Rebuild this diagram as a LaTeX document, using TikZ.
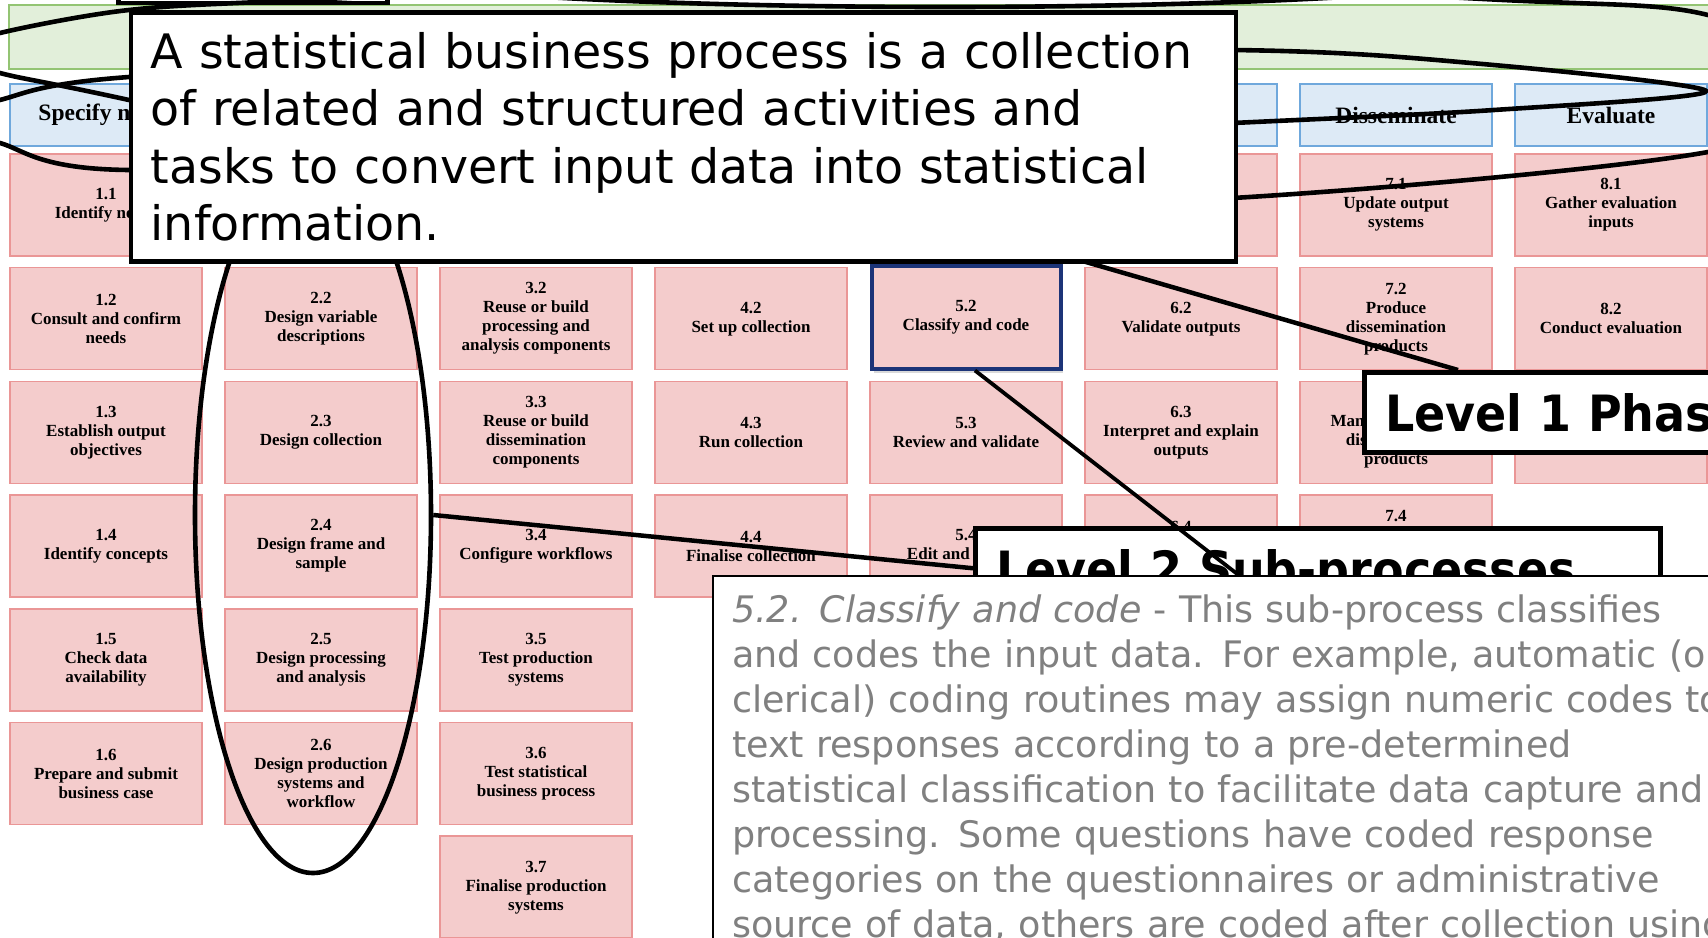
\documentclass[tikz,border=0pt]{standalone}
\usepackage{fontspec}
\setmainfont{Liberation Serif}
\newfontfamily\calloutfont{DejaVu Sans}
\newfontfamily\levelfont[FakeStretch=0.92]{DejaVu Sans}
\usetikzlibrary{calc,shadows,shapes.geometric}

\definecolor{subfill}{RGB}{244,204,204}
\definecolor{subline}{RGB}{234,150,150}
\definecolor{phasefill}{RGB}{221,234,246}
\definecolor{phaseline}{RGB}{111,168,220}
\definecolor{overfill}{RGB}{226,239,218}
\definecolor{overline}{RGB}{147,196,115}
\definecolor{pickline}{RGB}{28,52,120}
\definecolor{desctext}{RGB}{128,128,128}

\tikzset{
  subbox/.style={draw=subline, fill=subfill, line width=1.5pt,
    minimum width=192pt, minimum height=102pt, inner sep=2pt,
    align=center, font=\fontsize{17}{19}\selectfont\bfseries},
  phasebox/.style={draw=phaseline, fill=phasefill, line width=1.5pt,
    minimum width=192pt, minimum height=62pt,
    font=\fontsize{23.5}{27}\selectfont\bfseries},
  pickbox/.style={draw=pickline, line width=4pt,
    minimum width=189pt, minimum height=103pt,
    drop shadow={opacity=0.3, shadow xshift=2pt, shadow yshift=-4pt}},
  callout/.style={draw, fill=white, line width=4.5pt, inner xsep=20pt},
  levelbox/.style={callout, inner xsep=21pt, inner ysep=0pt,
    minimum height=80pt, text height=38pt, text depth=0pt, align=left,
    font=\levelfont\bfseries\fontsize{50}{60}\selectfont},
  ring/.style={line width=4.6pt},
  pointer/.style={line width=4.5pt},
}

\begin{document}
\begin{tikzpicture}[x=1pt, y=-1pt]
  \useasboundingbox (0,0) rectangle (1708,937);

  % Overarching bar along the top
  \draw[draw=overline, fill=overfill, line width=1.5pt] (9,5) rectangle (1760,69);

  % Phase headers
  \foreach \c/\name in {1/{Specify needs}, 2/{}, 3/{}, 4/{}, 5/{}, 6/{},
      7/{Disseminate}, 8/{Evaluate}}
    \node[phasebox] (p\c) at ({106+215*(\c-1)}, 115) {\name};

  % Sub-process boxes, column by column
  \foreach \c/\r/\txt in {
      1/1/{1.1\\Identify needs}, 1/2/{1.2\\Consult and confirm\\needs},
      1/3/{1.3\\Establish output\\objectives}, 1/4/{1.4\\Identify concepts},
      1/5/{1.5\\Check data\\availability}, 1/6/{1.6\\Prepare and submit\\business case},
      2/1/{}, 2/2/{2.2\\Design variable\\descriptions}, 2/3/{2.3\\Design collection},
      2/4/{2.4\\Design frame and\\sample}, 2/5/{2.5\\Design processing\\and analysis},
      2/6/{2.6\\Design production\\systems and\\workflow},
      3/1/{}, 3/2/{3.2\\Reuse or build\\processing and\\analysis components},
      3/3/{3.3\\Reuse or build\\dissemination\\components}, 3/4/{3.4\\Configure workflows},
      3/5/{3.5\\Test production\\systems}, 3/6/{3.6\\Test statistical\\business process},
      3/7/{3.7\\Finalise production\\systems},
      4/1/{}, 4/2/{4.2\\Set up collection}, 4/3/{4.3\\Run collection},
      4/4/{4.4\\Finalise collection},
      5/1/{}, 5/3/{5.3\\Review and validate}, 5/4/{5.4\\Edit and impute},
      6/1/{}, 6/2/{6.2\\Validate outputs}, 6/3/{6.3\\Interpret and explain\\outputs},
      6/4/{6.4\\Apply disclosure\\control},
      7/1/{7.1\\Update output\\systems}, 7/2/{7.2\\Produce\\dissemination\\products},
      7/3/{7.3\\Manage release of\\dissemination\\products},
      7/4/{7.4\\Promote\\dissemination\\products},
      8/1/{8.1\\Gather evaluation\\inputs}, 8/2/{8.2\\Conduct evaluation},
      8/3/{8.3\\Agree an action plan}}
    \node[subbox] (s\c\r) at ({106+215*(\c-1)}, {205+113.7*(\r-1)}) {\txt};

  % the picked sub-process
  \node[subbox, pickbox] (s52) at (966,317) {5.2\\Classify and code};

  % label box cut off at the top edge
  \node[callout, anchor=south west, minimum width=269pt, minimum height=60pt] (topbox) at (116,5) {};

  % Hand drawn rings
  \draw[ring] (945,-40) ellipse [x radius=648pt, y radius=47pt];
  \draw[ring] plot[smooth cycle] coordinates {(-50,53) (0,33) (129,10) (305,0)
    (904,-25) (1503,0) (1708,15) (1850,85) (1708,152) (1233,198) (650,215)
    (129,100) (0,73)};
  \draw[ring] plot[smooth cycle] coordinates {(-45,121) (0,100) (129,77) (650,52)
    (1233,50) (1471,63) (1706,91) (1494,110) (1233,123) (650,150) (129,170) (0,143)};
  \node[ring, draw, ellipse, minimum width=236pt, minimum height=716pt, inner sep=0pt]
    (designring) at (313,515) {};

  % Level 1 label and its pointer
  \node[levelbox, anchor=north west, text width=390pt] (lvlone) at (1362,370) {Level 1 Phases};
  \coordinate (phasefoot) at (700,150);
  \draw[pointer] (phasefoot) -- ($(lvlone.north west)+(96,0)$);

  % Main callout
  \node[callout, anchor=north west, minimum width=1105pt, minimum height=249pt,
    text width=1065pt, align=left, font=\calloutfont\fontsize{47.5}{57.5}\selectfont]
    (bpbox) at (128.5,10) {A statistical business process is a collection\\
    of related and structured activities and\\
    tasks to convert input data into statistical\\
    information.};

  % Level 2 label and its pointers
  \node[levelbox, anchor=north west, text width=643pt] (lvltwo) at (973,526) {Level 2 Sub-processes};
  \draw[pointer] (designring.east) -- (lvltwo.west);
  \coordinate (subtip) at (1245,580);
  \draw[line width=3.8pt] ($(s52.south)+(9,0)$) -- (subtip);

  % Description of the picked sub-process
  \node[draw, fill=white, line width=2pt, anchor=north west, text width=1100pt,
    align=left, inner sep=19pt, text=desctext,
    font=\calloutfont\fontsize{36.5}{45}\selectfont] (descbox) at (712,575)
    {\textit{5.2. Classify and code} - This sub-process classifies\\
    and codes the input data. For example, automatic (or\\
    clerical) coding routines may assign numeric codes to\\
    text responses according to a pre-determined\\
    statistical classification to facilitate data capture and\\
    processing. Some questions have coded response\\
    categories on the questionnaires or administrative\\
    source of data, others are coded after collection using};
\end{tikzpicture}
\end{document}
